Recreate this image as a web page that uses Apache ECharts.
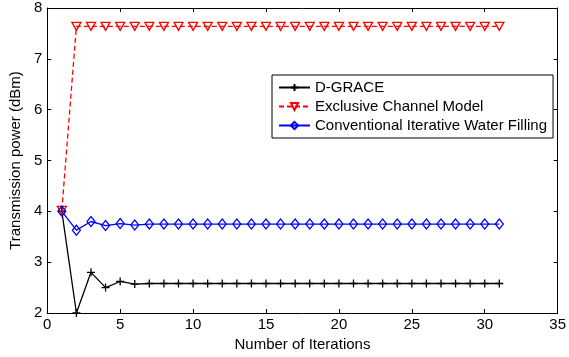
<!DOCTYPE html>
<html><head><meta charset="utf-8">
<script src="https://cdn.jsdelivr.net/npm/echarts@6/dist/echarts.min.js"></script>
<style>html,body{margin:0;padding:0;background:#fff}#c{width:569px;height:357px}</style>
</head><body><div id="c"></div>
<script>
var iterations = [1,2,3,4,5,6,7,8,9,10,11,12,13,14,15,16,17,18,19,20,21,22,23,24,25,26,27,28,29,30,31];
var dGrace = [4.0,2.0,2.8,2.5,2.62,2.57,2.58,2.58,2.58,2.58,2.58,2.58,2.58,2.58,2.58,2.58,2.58,2.58,2.58,2.58,2.58,2.58,2.58,2.58,2.58,2.58,2.58,2.58,2.58,2.58,2.58];
var exclusive = [4.02,7.64,7.64,7.64,7.64,7.64,7.64,7.64,7.64,7.64,7.64,7.64,7.64,7.64,7.64,7.64,7.64,7.64,7.64,7.64,7.64,7.64,7.64,7.64,7.64,7.64,7.64,7.64,7.64,7.64,7.64];
var conventional = [4.0,3.63,3.8,3.72,3.76,3.73,3.75,3.75,3.75,3.75,3.75,3.75,3.75,3.75,3.75,3.75,3.75,3.75,3.75,3.75,3.75,3.75,3.75,3.75,3.75,3.75,3.75,3.75,3.75,3.75,3.75];
var xTicks = [0,5,10,15,20,25,30,35];
var yTicks = [2,3,4,5,6,7,8];

function pairs(v){ return iterations.map(function(x,i){ return [x, v[i]]; }); }
var font = 'Liberation Sans, Arial, sans-serif';
var chart = echarts.init(document.getElementById('c'));
var axisCommon = {
  axisLine:{show:true,onZero:false,lineStyle:{color:'#000',width:1}},
  axisTick:{show:true,inside:true,length:4,lineStyle:{color:'#000'}},
  splitLine:{show:false}
};
chart.setOption({
  animation:false,
  backgroundColor:'#fff',
  grid:{left:41,right:9,top:8,bottom:42,containLabel:false},
  legend:{
    orient:'vertical', left:272, top:75,
    backgroundColor:'#fff', borderColor:'#000', borderWidth:1,
    padding:[5,6,5,6], itemGap:4, itemWidth:31, itemHeight:9,
    textStyle:{fontFamily:font,fontSize:15,color:'#000',padding:[0,0,0,0]},
    data:['D-GRACE','Exclusive Channel Model','Conventional Iterative Water Filling']
  },
  xAxis:[
    Object.assign({type:'value',min:0,max:35,interval:5,position:'bottom',
      name:'Number of Iterations',nameLocation:'middle',nameGap:24,
      nameTextStyle:{fontFamily:font,fontSize:15,color:'#000'},
      axisLabel:{fontFamily:font,fontSize:15,color:'#000',margin:4}},axisCommon),
    Object.assign({type:'value',min:0,max:35,interval:5,position:'top',
      axisLabel:{show:false}},axisCommon)
  ],
  yAxis:[
    Object.assign({type:'value',min:2,max:8,interval:1,position:'left',
      name:'Transmission power (dBm)',nameLocation:'middle',nameGap:19,
      nameTextStyle:{fontFamily:font,fontSize:15,color:'#000'},
      axisLabel:{fontFamily:font,fontSize:15,color:'#000',margin:5}},axisCommon),
    Object.assign({type:'value',min:2,max:8,interval:1,position:'right',
      axisLabel:{show:false}},axisCommon)
  ],
  series:[
    {name:'D-GRACE',type:'line',data:pairs(dGrace),
      lineStyle:{color:'#000',width:1.3},
      symbol:'path://M0,5L10,5M5,0L5,10',symbolSize:8,showAllSymbol:true,
      itemStyle:{color:'#000',borderColor:'#000',borderWidth:1.3}},
    {name:'Exclusive Channel Model',type:'line',data:pairs(exclusive),
      lineStyle:{color:'#ff0000',width:1.3,type:[5,3]},
      symbol:'path://M0,0L10,0L5,9Z',symbolSize:[9,8],showAllSymbol:true,
      itemStyle:{color:'rgba(255,255,255,0)',borderColor:'#ff0000',borderWidth:1.3}},
    {name:'Conventional Iterative Water Filling',type:'line',data:pairs(conventional),
      lineStyle:{color:'#0000ff',width:1.3},
      symbol:'diamond',symbolSize:[8,10],showAllSymbol:true,
      itemStyle:{color:'rgba(255,255,255,0)',borderColor:'#0000ff',borderWidth:1.3}}
  ]
});
</script></body></html>
